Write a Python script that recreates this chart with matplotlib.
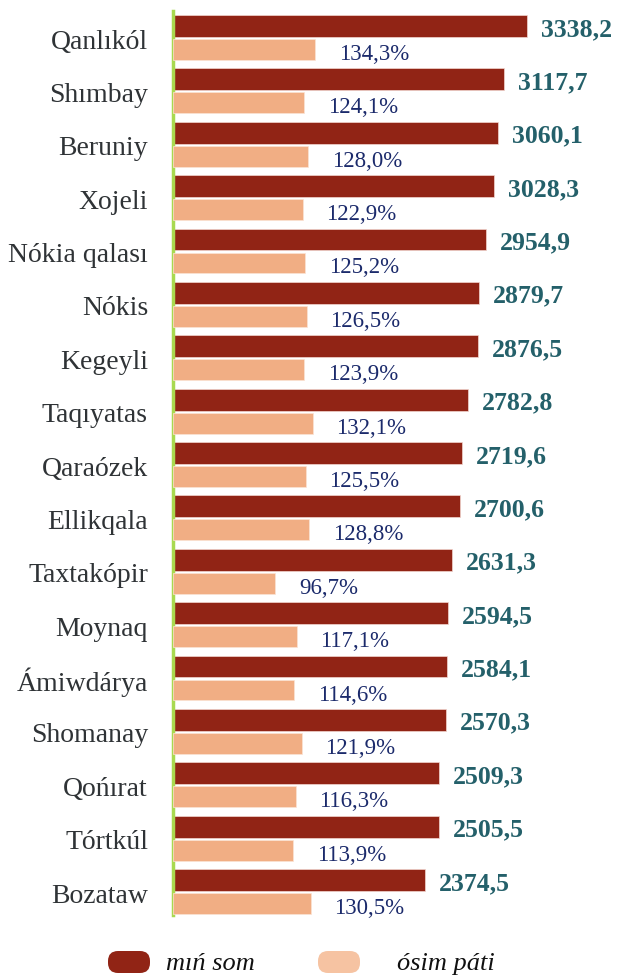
import numpy as np
import matplotlib
matplotlib.use('Agg')
import matplotlib.pyplot as plt
from matplotlib.patches import FancyBboxPatch

# Data
districts = ['Qanlıkól', 'Shımbay', 'Beruniy', 'Xojeli', 'Nókia qalası', 'Nókis',
             'Kegeyli', 'Taqıyatas', 'Qaraózek', 'Ellikqala', 'Taxtakópir', 'Moynaq',
             'Ámiwdárya', 'Shomanay', 'Qońırat', 'Tórtkúl', 'Bozataw']
som_values = [3338.2, 3117.7, 3060.1, 3028.3, 2954.9, 2879.7, 2876.5, 2782.8, 2719.6,
              2700.6, 2631.3, 2594.5, 2584.1, 2570.3, 2509.3, 2505.5, 2374.5]
growth_pct = [134.3, 124.1, 128.0, 122.9, 125.2, 126.5, 123.9, 132.1, 125.5,
              128.8, 96.7, 117.1, 114.6, 121.9, 116.3, 113.9, 130.5]
series_names = ['mıń som', 'ósim páti']

# Colours
red = '#912415'
salmon = '#F1AE84'
salmon_legend = '#F6C3A2'
teal = '#24606A'
navy = '#1B2A6B'
grey = '#2F3336'
green = '#A9D94F'

plt.rcParams['font.family'] = ['Liberation Serif', 'DejaVu Serif']

fig = plt.figure(figsize=(6.19, 9.78), dpi=100)
ax = fig.add_axes([173 / 619, 62 / 978, 446 / 619, 904 / 978])
ax2 = ax.twiny()

y = np.arange(len(districts))
ax.barh(y - 0.225, som_values, height=0.41, color=red, edgecolor='#f3d6d0', linewidth=0.5)
ax2.barh(y + 0.215, growth_pct, height=0.39, color=salmon, edgecolor='#fbe3d4', linewidth=0.5)

ax.set_xlim(0, 4204)
ax2.set_xlim(0, 422)
ax.set_ylim(16.43, -0.506)

# Value labels
for yi, v in zip(y, som_values):
    ax.annotate(f'{v:.1f}'.replace('.', ','), (v, yi - 0.18), xytext=(10, 0),
                textcoords='offset points', va='center', ha='left',
                fontsize=18.5, fontweight='bold', color=teal)
for yi, p in zip(y, growth_pct):
    ax2.annotate(f'{p:.1f}'.replace('.', ',') + '%', (p, yi + 0.29), xytext=(17, 0),
                 textcoords='offset points', va='center', ha='left',
                 fontsize=16.5, color=navy)

# Axis styling
ax.set_yticks(y)
ax.set_yticklabels(districts, fontsize=20, color=grey)
ax.tick_params(axis='y', length=0, pad=18)
ax.set_xticks([])
ax2.set_xticks([])
for a in (ax, ax2):
    for s in ('top', 'right', 'bottom', 'left'):
        a.spines[s].set_visible(False)
ax.spines['left'].set_visible(True)
ax.spines['left'].set_color(green)
ax.spines['left'].set_linewidth(2.5)
ax.spines['left'].set_zorder(5)

# Legend
lax = fig.add_axes([0, 0, 1, 58.68 / 978])
lax.set_xlim(0, 619)
lax.set_ylim(0, 58.68)
lax.axis('off')
legend_items = [(108, red, 166, series_names[0]), (318, salmon_legend, 397, series_names[1])]
for px, col, tx, name in legend_items:
    lax.add_patch(FancyBboxPatch((px, 4), 42, 22, boxstyle='round,pad=0,rounding_size=10',
                                 facecolor=col, edgecolor='none'))
    lax.text(tx, 14, name, fontsize=19, fontstyle='italic', color='#111111',
             va='center', ha='left')

fig.savefig('out.png', dpi=100)
